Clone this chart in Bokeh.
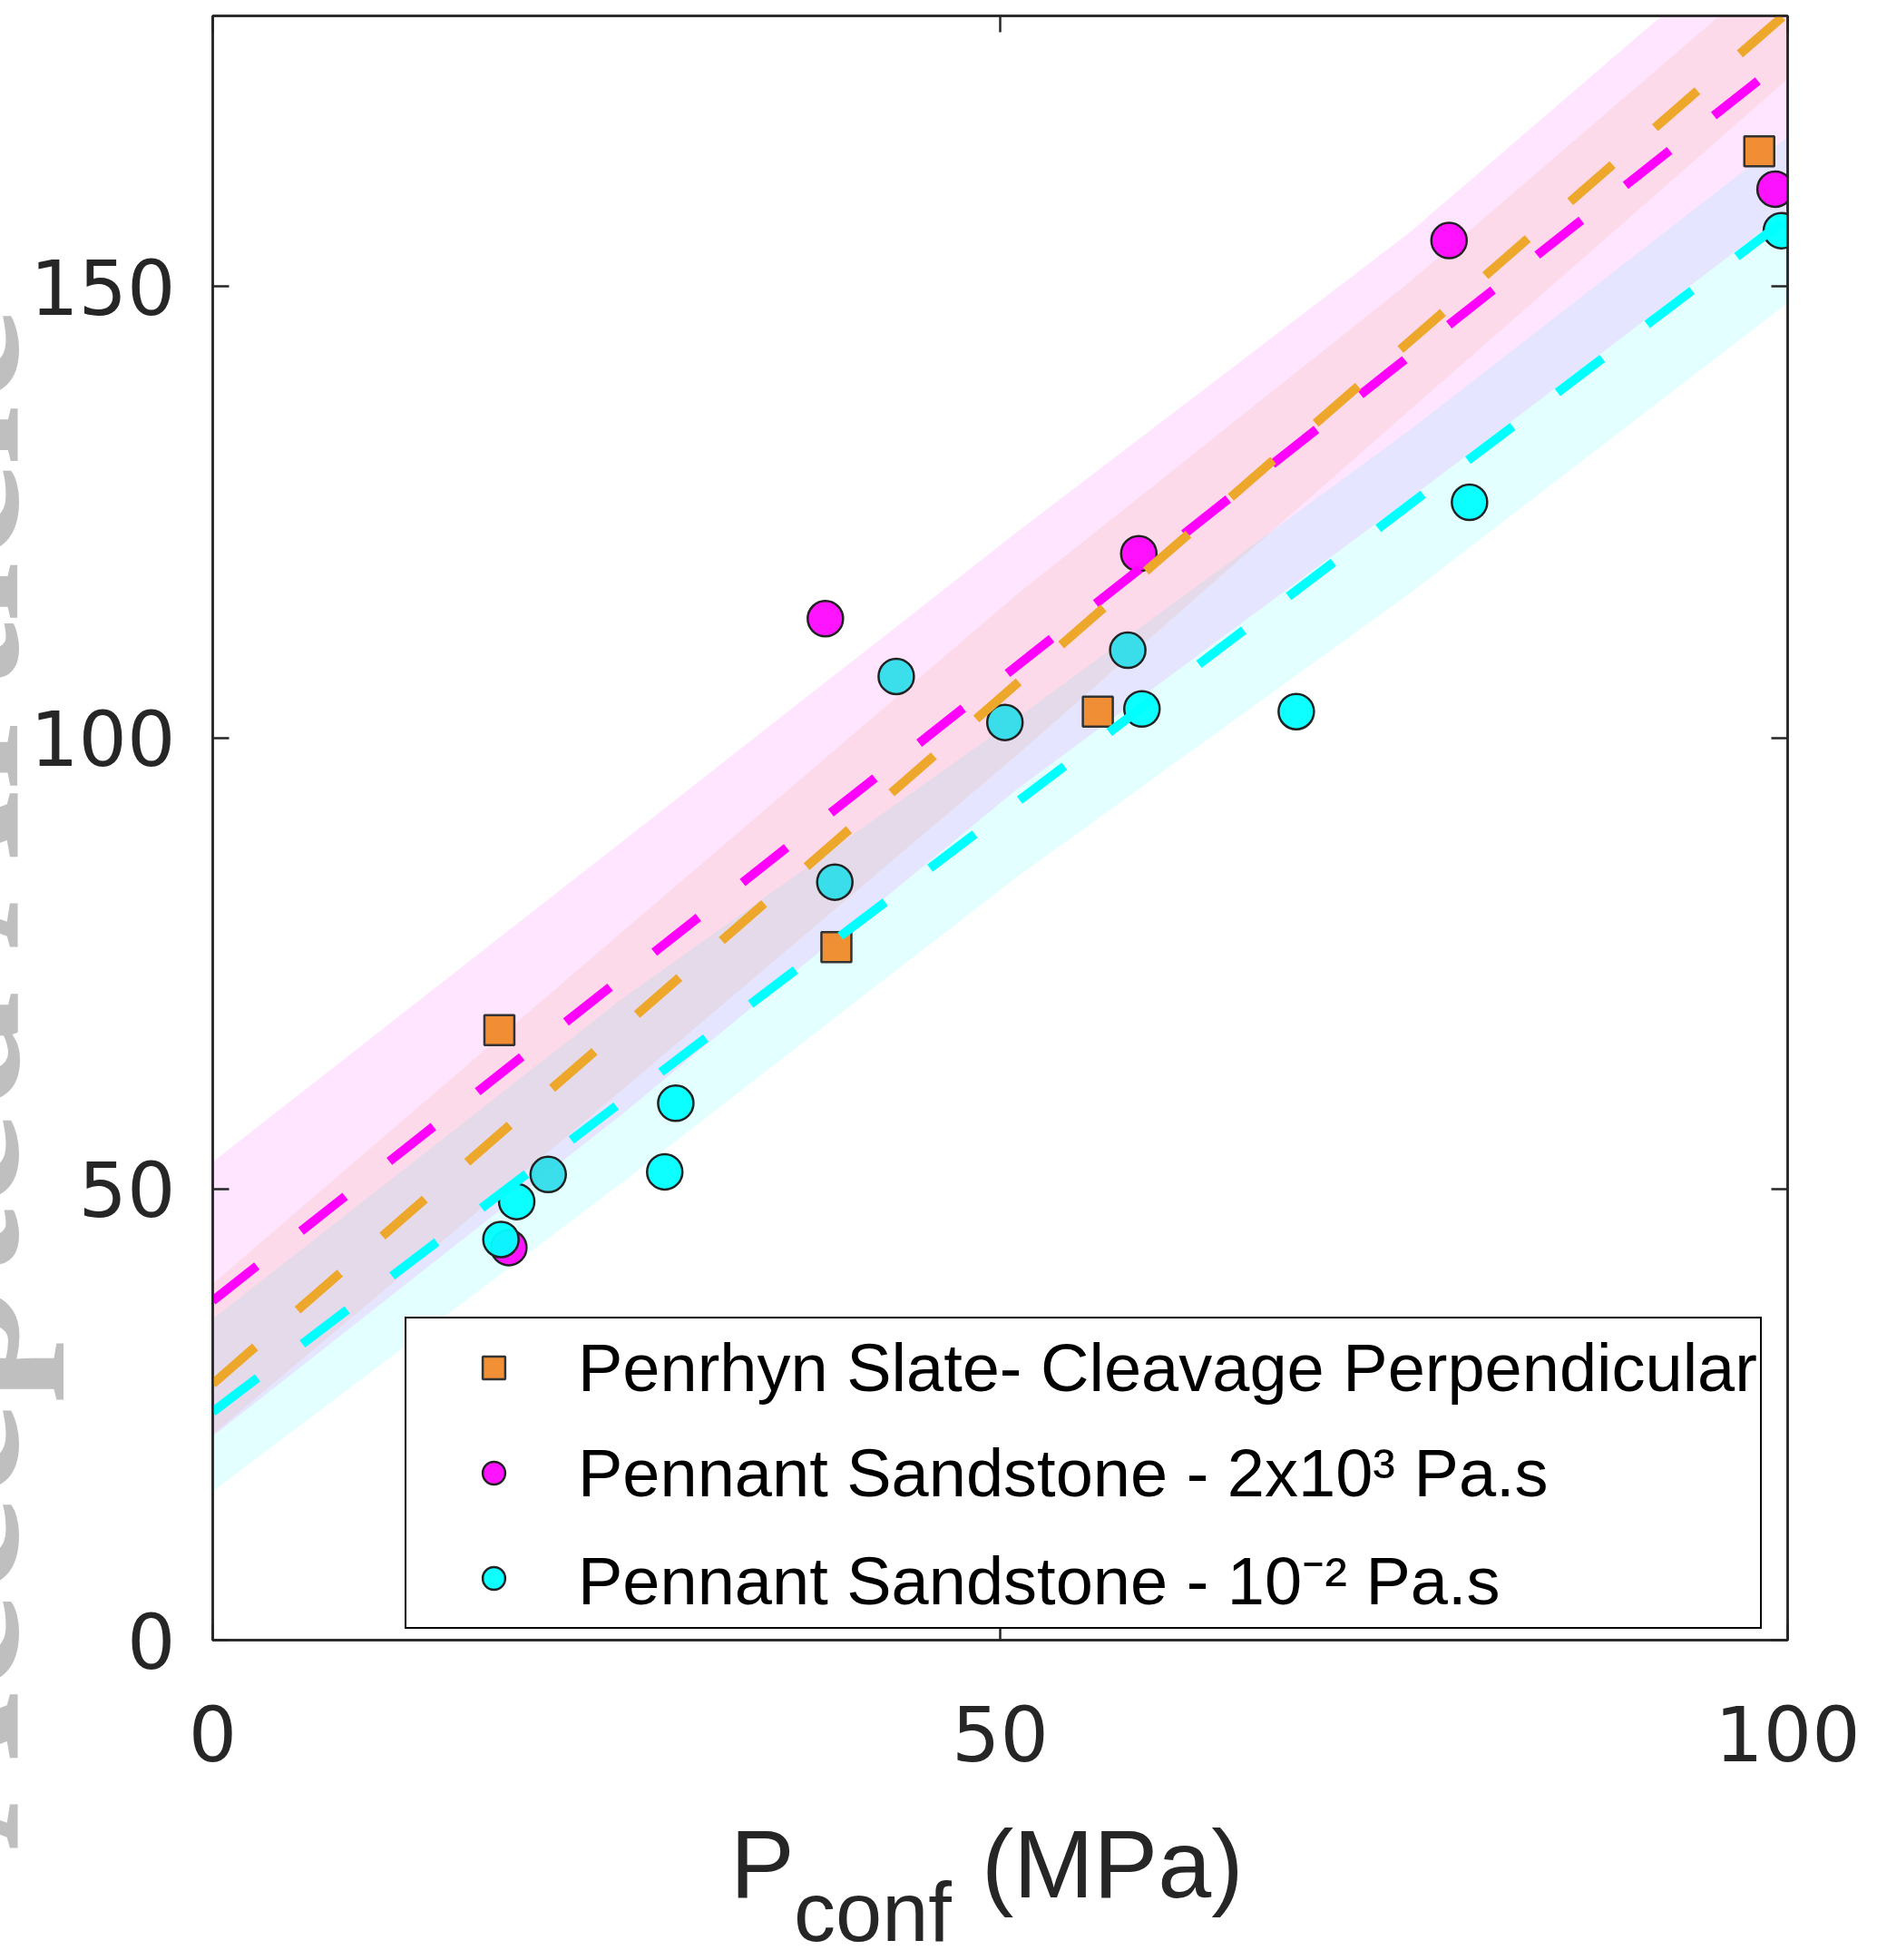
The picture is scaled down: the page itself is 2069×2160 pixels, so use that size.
from bokeh.plotting import figure
from bokeh.models import Range1d, LinearAxis, FixedTicker, Legend, LegendItem
from bokeh.embed import file_html
from bokeh.resources import INLINE

# ---------------- data ----------------
x_ticks = [0, 50, 100]
y_ticks = [0, 50, 100, 150]

penrhyn_x = [18.2, 39.6, 56.2, 98.2]
penrhyn_y = [67.6, 76.8, 102.9, 165.0]

visc_x = [18.8, 38.9, 58.8, 78.5, 99.2]
visc_y = [43.5, 113.2, 120.4, 155.1, 160.8]

water_x = [18.3, 19.3, 28.7, 29.4, 59.0, 68.8, 79.8, 99.6]
water_y = [44.4, 48.6, 51.9, 59.5, 103.2, 102.9, 126.1, 156.2]
water_b_x = [21.3, 39.5, 43.4, 50.3, 58.1]
water_b_y = [51.6, 84.0, 106.8, 101.7, 109.7]

fit_x = [0, 100]
penrhyn_fit = [28.4, 180.4]
visc_fit = [37.6, 175.4]
water_fit = [25.3, 157.6]

band_x = [0, 26, 51, 76, 100]
visc_upper = [53.0, 88.5, 122.7, 156.0, 192.0]
visc_lower = [22.6, 58.3, 94.2, 126.5, 158.3]
penrhyn_upper = [39.5, 78.5, 115.8, 150.5, 186.5]
penrhyn_lower = [22.8, 61.0, 98.0, 136.3, 173.0]
water_upper = [35.6, 71.1, 102.1, 134.1, 166.6]
water_lower = [16.5, 50.7, 84.5, 116.0, 148.2]

labels = ["Penrhyn Slate- Cleavage Perpendicular",
          "Pennant Sandstone - 2x10\u00b3 Pa.s",
          "Pennant Sandstone - 10\u207b\u00b2 Pa.s"]

NB = "\u00a0"
xtitle_main = "P" + NB * 7 + "(MPa)" + NB
xtitle_sub = "conf" + NB * 11
watermark = "Accepted Article" + NB * 9

# ---------------- layout ----------------
FL, FR, FT, FB = 234, 1970, 17, 1807
SHIFT = 260          # extra hidden strip on the left (watermark is cut off there)

p = figure(frame_width=FR - FL, frame_height=FB - FT,
           min_border_left=FL + SHIFT, min_border_right=2069 - FR,
           min_border_top=FT, min_border_bottom=2160 - FB,
           x_range=Range1d(0, 100), y_range=Range1d(0, 180),
           output_backend="svg", toolbar_location=None,
           background_fill_color="white", border_fill_color="white",
           outline_line_color="#262626", outline_line_width=2.5)
p.styles = {"margin-left": f"-{SHIFT}px"}
p.xgrid.visible = False
p.ygrid.visible = False

AX = "#262626"
def style_axis(ax, ticks, show_labels):
    ax.ticker = FixedTicker(ticks=ticks)
    ax.axis_line_color = AX
    ax.axis_line_width = 2.5
    ax.major_tick_line_color = AX
    ax.major_tick_line_width = 2.5
    ax.major_tick_in = 18
    ax.major_tick_out = 0
    ax.minor_tick_in = 0
    ax.minor_tick_out = 0
    ax.minor_tick_line_color = None
    if show_labels:
        ax.major_label_text_font = "DejaVu Sans"
        ax.major_label_text_font_size = "84px"
        ax.major_label_text_color = AX
    else:
        ax.major_label_overrides = {t: "" for t in ticks}
        ax.major_label_text_font_size = "0px"
        ax.major_label_standoff = 0

xa = p.xaxis[0]
style_axis(xa, x_ticks, True)
xa.major_label_standoff = 71
xa.axis_label = xtitle_main
xa.axis_label_text_font = "Liberation Sans"
xa.axis_label_text_font_size = "106px"
xa.axis_label_text_font_style = "normal"
xa.axis_label_text_color = AX
xa.axis_label_standoff = 51

ya = p.yaxis[0]
style_axis(ya, y_ticks, True)
ya.major_label_standoff = 41
ya.axis_label = watermark
ya.axis_label_text_font = "Liberation Serif"
ya.axis_label_text_font_size = "240px"
ya.axis_label_text_font_style = "bold"
ya.axis_label_text_color = "#bfbfbf"
ya.axis_label_standoff = -41

# subscript line of the x title
sub_ax = LinearAxis(ticker=FixedTicker(ticks=[]), axis_line_color=None,
                    major_tick_line_color=None, minor_tick_line_color=None,
                    major_tick_in=0, major_tick_out=0, minor_tick_in=0, minor_tick_out=0,
                    major_label_text_font_size="0px", major_label_standoff=0,
                    axis_label=xtitle_sub, axis_label_text_font="Liberation Sans",
                    axis_label_text_font_size="92px", axis_label_text_font_style="normal",
                    axis_label_text_color=AX, axis_label_standoff=-60)
p.add_layout(sub_ax, "below")

top_ax = LinearAxis()
style_axis(top_ax, x_ticks, False)
p.add_layout(top_ax, "above")
right_ax = LinearAxis()
style_axis(right_ax, y_ticks, False)
p.add_layout(right_ax, "right")

# ---------------- bands ----------------
p.varea(x=band_x, y1=water_lower, y2=water_upper, fill_color="#00FFFF", fill_alpha=0.11)
p.varea(x=band_x, y1=penrhyn_lower, y2=penrhyn_upper, fill_color="#F08C10", fill_alpha=0.10)
p.varea(x=band_x, y1=visc_lower, y2=visc_upper, fill_color="#FF00FF", fill_alpha=0.10)

# ---------------- markers ----------------
r_sq = p.scatter(penrhyn_x, penrhyn_y, marker="square", size=33,
                 fill_color="#F0841F", fill_alpha=0.9, line_color="#333333", line_width=2.5)
r_mag = p.scatter(visc_x, visc_y, marker="circle", size=39,
                  fill_color="#FF00FF", fill_alpha=0.92, line_color="#222222", line_width=2.5)
r_cyb = p.scatter(water_b_x, water_b_y, marker="circle", size=39,
                  fill_color="#30DDEA", fill_alpha=0.95, line_color="#222222", line_width=2.5)
r_cya = p.scatter(water_x, water_y, marker="circle", size=39,
                  fill_color="#00FFFF", fill_alpha=0.95, line_color="#222222", line_width=2.5)

# ---------------- fit lines ----------------
p.line(fit_x, visc_fit, line_color="#FF00FF", line_width=10, line_dash="62 62")
p.line(fit_x, penrhyn_fit, line_color="#EDA72A", line_width=10, line_dash="62 62")
p.line(fit_x, water_fit, line_color="#00FFFF", line_width=10, line_dash="62 62")

# ---------------- legend ----------------
legend = Legend(items=[LegendItem(label=labels[0], renderers=[r_sq]),
                       LegendItem(label=labels[1], renderers=[r_mag]),
                       LegendItem(label=labels[2], renderers=[r_cya])],
                location=(446 - FL, FB - 1795),
                label_text_font="Liberation Sans", label_text_font_size="74px",
                label_text_color="black",
                glyph_width=186, glyph_height=62, label_height=102,
                label_standoff=0, spacing=14, padding=3, margin=0,
                border_line_color="black", border_line_width=2.5, border_line_alpha=1.0,
                background_fill_color="white", background_fill_alpha=1.0)
p.add_layout(legend)

open("out.html", "w").write(file_html(p, INLINE))
